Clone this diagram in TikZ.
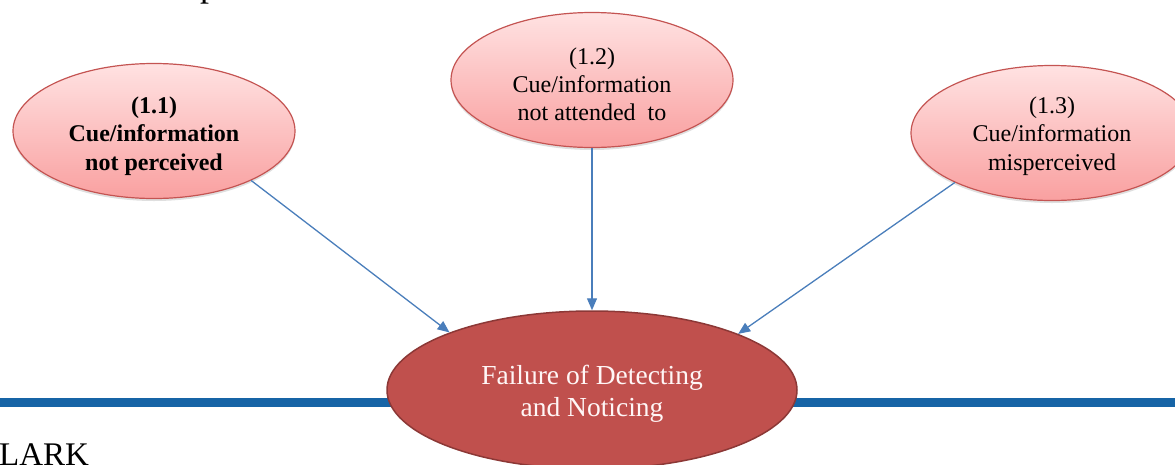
\documentclass[tikz,border=0pt]{standalone}
\usepackage{fontspec}
\setmainfont{Liberation Serif}
\usetikzlibrary{shapes.geometric,arrows.meta,shadows}

\definecolor{pinktop}{RGB}{255,226,226}
\definecolor{pinkbot}{RGB}{249,160,160}
\definecolor{pinkline}{RGB}{196,84,82}
\definecolor{redfill}{RGB}{192,80,77}
\definecolor{redline}{RGB}{140,56,54}
\definecolor{arrowblue}{RGB}{74,126,187}
\definecolor{barblue}{RGB}{22,100,166}

% invisible strut that adds room above the first line of a label
\newcommand{\headroom}[1]{\rule{0pt}{#1}}

\tikzset{
  pinkell/.style={ellipse, draw=pinkline, line width=1.2pt,
    top color=pinktop, bottom color=pinkbot,
    minimum width=282pt, minimum height=135pt, inner sep=0pt,
    align=center, text=black,
    drop shadow={shadow xshift=0pt, shadow yshift=-2.5pt, opacity=0.25}},
  bigell/.style={ellipse, draw=redline, line width=1.5pt, fill=redfill,
    minimum width=410pt, minimum height=158pt, inner sep=0pt,
    align=center, text={rgb,255:red,255;green,246;blue,246}},
  link/.style={draw=arrowblue, line width=1.3pt,
    -{Triangle[length=12pt,width=10pt]}},
  bodyfont/.style={font=\fontsize{24}{28.3}\selectfont},
  boldfont/.style={font=\bfseries\fontsize{24}{28.5}\selectfont}
}

\begin{document}
\begin{tikzpicture}[x=1pt,y=-1pt]
  \useasboundingbox (0,0) rectangle (1175,464);

  % heading letter running off the top edge
  \node[anchor=base west, inner sep=0pt, font=\fontsize{36}{40}\selectfont] (head) at (200,-4) {p};

  % blue rule across the page
  \coordinate (ruleL) at (0,402.5);
  \coordinate (ruleR) at (1175,402.5);
  \draw[barblue, line width=9pt] (ruleL) -- (ruleR);

  % footer text
  \node[anchor=base west, inner sep=0pt, font=\fontsize{33}{36}\selectfont] (foot) at (-1,465) {LARK};

  % causes
  \node[pinkell, boldfont] (e1) at (154,131) {\headroom{27pt}(1.1)\\Cue/information\\not perceived};
  \node[pinkell, bodyfont] (e2) at (592,80) {\headroom{25pt}(1.2)\\Cue/information\\not attended~ to};
  \node[pinkell, bodyfont] (e3) at (1052,133) {\headroom{23pt}(1.3)\\Cue/information\\misperceived};

  % outcome
  \node[bigell, font=\fontsize{27.5}{32}\selectfont] (e4) at (592,390) {\headroom{27pt}Failure of Detecting\\and Noticing};

  % connectors
  \draw[link] (e1.-27.3) -- (e4.158.9);
  \draw[link] (e2.south) -- (e4.north);
  \draw[link] (e3.207.3) -- (e4.21.1);
\end{tikzpicture}
\end{document}
